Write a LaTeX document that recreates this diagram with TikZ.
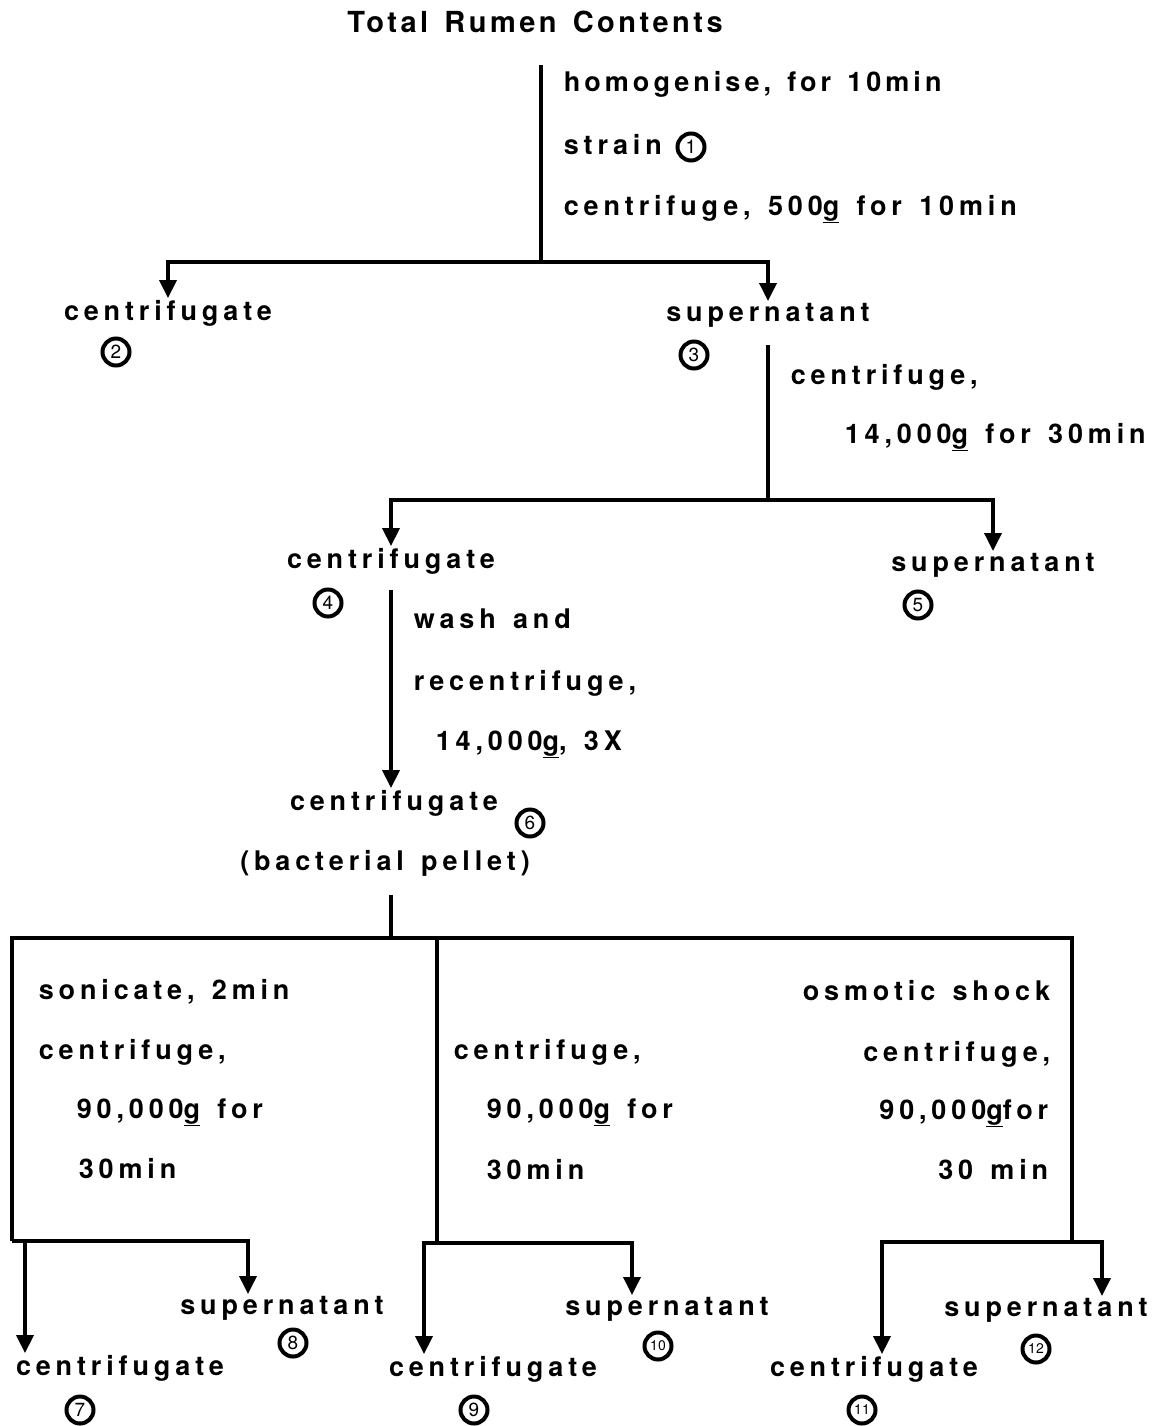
\documentclass[tikz,border=0pt]{standalone}
\usepackage{fontspec}
\setmainfont{TeX Gyre Heros}[LetterSpace=18,WordSpace=1.4]
\newfontfamily\numfont{TeX Gyre Heros}
\usetikzlibrary{arrows.meta}

\newcommand{\gunder}{\underline{g}}

\begin{document}
\begin{tikzpicture}[x=1pt,y=-1pt,line width=3.6pt,
    txt/.style={inner sep=0pt,font=\fontsize{27}{30}\selectfont\bfseries},
    title/.style={inner sep=0pt,font=\fontsize{29}{32}\selectfont\bfseries\addfontfeature{LetterSpace=12}},
    num/.style={circle,draw,line width=4pt,inner sep=0pt,minimum size=27pt,
        font=\numfont\fontsize{19}{19}\selectfont},
    numtwo/.style={num,font=\numfont\fontsize{14}{14}\selectfont},
    flow/.style={-{Triangle[width=17pt,length=18pt]}},
    split/.style={{Triangle[width=17pt,length=18pt]}-{Triangle[width=17pt,length=18pt]}}]
    \useasboundingbox (0,0) rectangle (1167,1426);

    % Start
    \node (tot) at (535,33) [title,anchor=base] {Total Rumen Contents};

    % First step: homogenise, strain, 500g
    \coordinate (t1) at (541,65);
    \coordinate (j1) at (541,262);
    \node (l1a) at (562,92) [txt,anchor=base west,font=\fontsize{27}{30}\selectfont\bfseries\addfontfeature{LetterSpace=15}] {homogenise, for 10min};
    \node (l1b) at (562,154) [txt,anchor=base west] {strain};
    \node (n1) at (691,147) [num] {1};
    \node (l1c) at (562,215) [txt,anchor=base west] {centrifuge, 500\gunder\ for 10min};

    \node (c2) at (168,320) [txt,anchor=base] {centrifugate};
    \node (n2) at (116,352) [num] {2};
    \node (s3) at (768,321) [txt,anchor=base] {supernatant};
    \node (n3) at (694,355) [num] {3};

    \draw (t1) -- (j1);
    \draw[split] (c2.north) |- (j1) -| (s3.north);

    % Second step: 14,000g
    \coordinate (t2) at (768,345);
    \coordinate (j2) at (768,500);
    \node (l2a) at (789,384) [txt,anchor=base west] {centrifuge,};
    \node (l2b) at (843,443) [txt,anchor=base west] {14,000\gunder\ for 30min};

    \node (c4) at (391,568) [txt,anchor=base] {centrifugate};
    \node (n4) at (328,603) [num] {4};
    \node (s5) at (993,571) [txt,anchor=base] {supernatant};
    \node (n5) at (918,605) [num] {5};

    \draw (t2) -- (j2);
    \draw[split] (c4.north) |- (j2) -| (s5.north);

    % Washing
    \coordinate (t3) at (391,590);
    \node (l3a) at (412,628) [txt,anchor=base west] {wash and};
    \node (l3b) at (412,690) [txt,anchor=base west] {recentrifuge,};
    \node (l3c) at (434,750) [txt,anchor=base west] {14,000\gunder, 3X};

    \node (c6) at (394,810) [txt,anchor=base] {centrifugate};
    \node (n6) at (530,823) [num] {6};
    \node (bp) at (385,870) [txt,anchor=base] {(bacterial pellet)};

    \draw[flow] (t3) -- (t3 |- c6.north);

    % Three treatments of the pellet
    \coordinate (t4) at (391,895);
    \coordinate (j4) at (391,938);
    \coordinate (k1) at (12,938);
    \coordinate (k2) at (437,938);
    \coordinate (k3) at (1072,938);
    \coordinate (b1) at (12,1241);
    \coordinate (b2) at (437,1243);
    \coordinate (b3) at (1072,1242);

    \draw (t4) -- (j4);
    \draw (b1) -- (k1) -- (k3) -- (b3);
    \draw (k2) -- (b2);

    \node (la1) at (37,999) [txt,anchor=base west] {sonicate, 2min};
    \node (la2) at (37,1059) [txt,anchor=base west] {centrifuge,};
    \node (la3) at (75,1118) [txt,anchor=base west] {90,000\gunder\ for};
    \node (la4) at (77,1178) [txt,anchor=base west] {30min};

    \node (lb1) at (452,1059) [txt,anchor=base west] {centrifuge,};
    \node (lb2) at (485,1118) [txt,anchor=base west] {90,000\gunder\ for};
    \node (lb3) at (485,1179) [txt,anchor=base west] {30min};

    \node (lc1) at (1052,1000) [txt,anchor=base east] {osmotic shock};
    \node (lc2) at (1052,1061) [txt,anchor=base east] {centrifuge,};
    \node (lc3) at (1050,1119) [txt,anchor=base east] {90,000\gunder for};
    \node (lc4) at (1050,1179) [txt,anchor=base east] {30 min};

    % Final fractions
    \node (c7) at (120,1375) [txt,anchor=base] {centrifugate};
    \node (n7) at (80,1410) [num] {7};
    \node (s8) at (282,1314) [txt,anchor=base] {supernatant};
    \node (n8) at (293,1343) [num] {8};
    \node (c9) at (493,1376) [txt,anchor=base] {centrifugate};
    \node (n9) at (474,1410) [num] {9};
    \node (s10) at (667,1315) [txt,anchor=base] {supernatant};
    \node (n10) at (658,1346) [numtwo] {10};
    \node (c11) at (874,1376) [txt,anchor=base] {centrifugate};
    \node (n11) at (862,1410) [numtwo] {11};
    \node (s12) at (1046,1316) [txt,anchor=base] {supernatant};
    \node (n12) at (1036,1349) [numtwo] {12};

    \coordinate (a7) at (25,1241);
    \coordinate (a8) at (248,1241);
    \coordinate (a9) at (424,1243);
    \coordinate (a10) at (632,1243);
    \coordinate (a11) at (882,1242);
    \coordinate (a12) at (1102,1242);

    \draw (b1) -- (a7);
    \draw[split] (a7 |- c7.north) -- (a7) -- (a8) -- (a8 |- s8.north);
    \draw[split] (a9 |- c9.north) -- (a9) -- (a10) -- (a10 |- s10.north);
    \draw[split] (a11 |- c11.north) -- (a11) -- (a12) -- (a12 |- s12.north);
\end{tikzpicture}
\end{document}
